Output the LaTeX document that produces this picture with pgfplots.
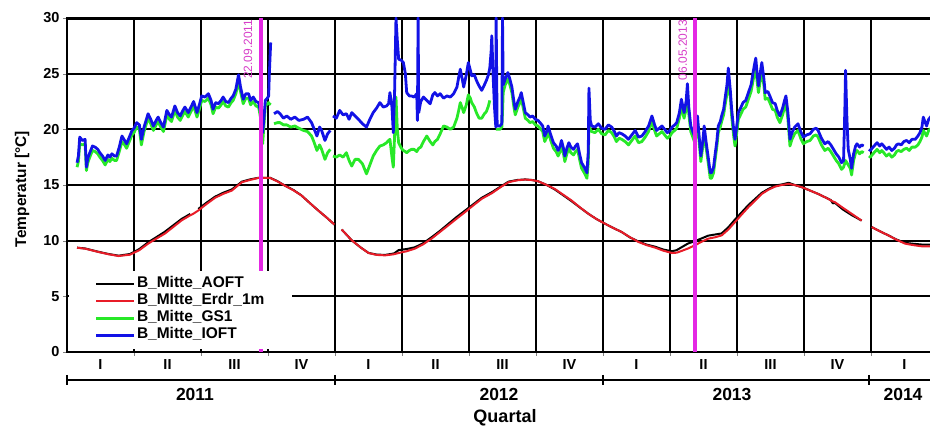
\documentclass[border=0pt]{standalone}
\usepackage{pgfplots}
\usepackage{pgfplotstable}
\pgfplotsset{compat=1.18}
\usepackage{fontspec}
\setmainfont{Liberation Sans}

\definecolor{cIOFT}{RGB}{18,18,230}
\definecolor{cGS}{RGB}{40,232,40}
\definecolor{cERD}{RGB}{232,28,40}
\definecolor{cMark}{RGB}{228,40,228}
\definecolor{cMarkTxt}{RGB}{215,60,200}

% x in quarters since 01.01.2011
\pgfplotstableread{
x aoft erdr
0.15 9.37 9.37
0.27 9.30 9.28
0.47 9.00 8.98
0.62 8.80 8.78
0.77 8.65 8.62
0.94 8.80 8.74
1.08 9.25 9.15
1.21 9.85 9.73
1.33 10.30 10.17
1.46 10.80 10.63
1.58 11.35 11.20
1.71 11.95 11.82
1.84 12.40 12.28
1.88 nan 12.40
1.92 nan 12.55
1.96 12.85 12.71
2.08 13.40 13.28
2.21 13.95 13.85
2.33 14.30 14.20
2.46 14.60 14.50
2.61 15.30 15.25
2.73 15.50 15.45
2.86 15.65 15.64
3.03 15.65 15.64
3.14 15.35 15.32
3.25 14.95 14.95
3.38 14.55 14.52
3.50 14.06 14.06
3.62 13.40 13.40
3.75 12.71 12.71
3.88 12.05 12.05
3.99 11.45 11.45
4.03 nan nan
4.10 11.00 11.00
4.25 10.03 10.03
4.38 9.40 9.40
4.50 8.90 8.89
4.62 8.75 8.72
4.75 8.72 8.68
4.88 8.85 8.78
4.95 9.15 8.89
5.07 9.25 9.05
5.19 9.40 9.28
5.31 9.75 9.65
5.44 10.30 10.18
5.56 10.85 10.75
5.69 11.50 11.37
5.81 12.10 11.95
5.94 12.70 12.56
6.06 13.25 13.15
6.19 13.85 13.76
6.34 14.35 14.26
6.47 14.85 14.80
6.59 15.30 15.25
6.72 15.45 15.42
6.84 15.50 15.49
6.94 15.45 15.44
7.03 15.34 15.34
7.16 15.00 15.00
7.28 14.60 14.65
7.40 14.10 14.15
7.53 13.55 13.61
7.65 13.00 13.02
7.78 12.42 12.42
7.90 11.95 11.95
8.03 11.52 11.52
8.15 11.15 11.15
8.28 10.77 10.77
8.40 10.30 10.32
8.53 9.92 9.88
8.65 9.65 9.60
8.78 9.45 9.37
8.90 9.20 9.10
9.03 9.05 8.89
9.10 9.15 8.92
9.17 9.40 9.07
9.27 9.75 9.30
9.37 9.95 9.58
9.47 10.20 9.90
9.57 10.45 10.18
9.67 10.55 10.30
9.77 10.65 10.47
9.87 11.20 11.00
9.97 11.90 11.67
10.07 12.55 12.35
10.17 13.20 13.01
10.27 13.75 13.60
10.37 14.30 14.20
10.47 14.65 14.58
10.57 14.95 14.86
10.67 15.05 15.00
10.77 15.20 15.10
10.87 14.98 14.98
10.97 14.80 14.80
11.09 14.50 14.50
11.21 14.20 14.20
11.33 13.85 13.85
11.40 13.65 13.62
11.43 13.35 13.52
11.46 13.40 13.46
11.58 12.80 12.95
11.71 12.30 12.42
11.86 11.80 11.80
11.90 nan nan
12.01 11.22 11.22
12.13 10.85 10.85
12.26 10.47 10.47
12.38 10.10 10.08
12.51 9.80 9.73
12.63 9.72 9.60
12.76 9.65 9.49
12.90 9.65 9.49
}\tabSoil

\pgfplotstableread{
x ioft gs
0.15 17.0 16.6
0.17 17.6 17.1
0.19 19.3 18.7
0.23 19.0 18.6
0.27 19.1 18.7
0.29 16.6 16.3
0.31 17.4 17.0
0.34 17.9 17.5
0.38 18.5 18.1
0.42 18.4 18.0
0.46 18.2 17.8
0.49 17.9 17.5
0.53 17.6 17.2
0.57 17.2 16.8
0.61 17.7 17.3
0.64 17.5 17.1
0.67 17.8 17.4
0.71 17.6 17.2
0.74 17.6 17.2
0.78 18.4 18.0
0.82 19.4 18.9
0.86 19.0 18.6
0.89 18.7 18.3
0.93 19.3 18.9
0.97 19.9 19.5
1.00 20.1 19.7
1.04 20.6 20.2
1.08 20.4 20.0
1.11 19.1 18.6
1.15 20.2 19.8
1.21 21.4 21.0
1.25 20.9 20.5
1.29 20.3 19.9
1.33 20.8 20.4
1.36 21.1 20.7
1.40 20.6 20.2
1.44 20.2 19.8
1.49 21.7 21.3
1.53 21.3 20.9
1.56 21.1 20.7
1.61 22.1 21.7
1.65 21.5 21.1
1.69 21.2 20.8
1.73 21.7 21.3
1.76 22.0 21.6
1.81 21.5 21.1
1.85 22.0 21.6
1.89 22.5 22.1
1.94 21.5 21.1
1.98 22.3 21.9
2.01 23.0 22.6
2.06 22.9 22.5
2.11 23.2 22.8
2.15 22.6 22.2
2.18 21.8 21.4
2.22 22.4 22.0
2.26 22.3 21.9
2.30 22.6 22.2
2.33 22.9 22.5
2.37 22.5 22.1
2.41 22.4 22.0
2.45 22.8 22.4
2.48 23.0 22.6
2.52 23.6 23.2
2.56 24.9 24.3
2.59 23.8 23.4
2.63 22.7 22.3
2.67 23.2 22.8
2.71 23.2 22.8
2.74 22.6 22.2
2.78 22.9 22.5
2.82 22.5 22.1
2.86 22.4 22.0
2.89 21.5 21.0
2.92 19.7 18.7
2.94 21.0 20.4
2.96 22.6 22.1
2.99 22.8 22.3
3.01 23.0 22.4
3.02 25.0 22.3
3.04 27.8 22.2
3.06 nan nan
3.09 21.4 20.5
3.14 21.6 20.6
3.18 21.4 20.6
3.23 21.0 20.4
3.28 21.2 20.4
3.34 20.9 20.2
3.40 21.1 20.3
3.46 20.8 20.1
3.53 20.9 19.9
3.59 21.1 19.8
3.65 20.6 19.4
3.69 20.0 18.8
3.73 19.4 18.1
3.77 20.2 18.6
3.80 19.9 18.2
3.85 19.0 17.3
3.89 19.6 17.9
3.93 19.9 18.2
3.95 nan nan
3.97 21.2 17.6
4.02 21.0 17.5
4.07 21.7 17.7
4.12 21.3 17.5
4.17 21.4 17.9
4.21 20.9 17.2
4.25 21.5 16.7
4.30 21.2 17.3
4.35 20.9 17.3
4.41 20.5 16.9
4.47 20.2 16.0
4.52 20.9 16.8
4.57 21.5 17.6
4.62 21.9 18.1
4.67 22.4 18.5
4.72 22.0 18.6
4.77 22.1 18.8
4.80 22.3 19.0
4.82 23.3 19.1
4.85 22.0 17.5
4.87 19.7 16.6
4.89 23.5 19.5
4.91 30.0 22.9
4.93 28.0 20.0
4.95 26.3 18.8
4.99 26.2 18.3
5.02 26.0 18.1
5.05 25.0 18.0
5.07 23.3 17.9
5.11 23.0 18.1
5.14 23.0 18.2
5.18 22.9 18.2
5.22 23.2 18.0
5.23 20.8 18.1
5.24 30.0 18.2
5.25 21.5 18.3
5.28 22.5 18.4
5.32 22.9 18.9
5.37 22.6 19.4
5.42 22.3 18.9
5.46 23.1 18.6
5.49 23.3 18.9
5.53 23.0 19.1
5.57 23.2 19.6
5.62 22.8 20.3
5.67 23.0 20.2
5.72 22.9 20.0
5.77 23.2 20.2
5.82 23.8 21.0
5.85 24.8 21.8
5.87 25.4 22.4
5.90 24.5 21.9
5.92 23.8 21.5
5.96 24.9 22.2
5.99 26.0 23.1
6.02 25.3 22.8
6.04 24.8 22.4
6.08 24.9 22.0
6.11 24.4 21.5
6.15 23.9 21.0
6.19 23.5 21.0
6.23 24.0 21.4
6.26 24.4 21.6
6.29 24.9 22.1
6.31 25.5 22.6
6.33 27.0 nan
6.34 28.4 nan
6.36 24.8 nan
6.38 22.0 nan
6.40 20.2 20.0
6.405 30.0 20.0
6.42 20.3 20.0
6.46 20.3 20.0
6.49 20.5 20.2
6.50 30.0 21.5
6.51 24.0 23.3
6.54 24.5 24.0
6.58 25.1 24.5
6.61 24.5 24.0
6.64 23.8 23.3
6.67 22.5 22.0
6.69 21.8 21.3
6.73 22.5 22.0
6.76 22.9 22.4
6.78 23.3 22.8
6.81 22.4 21.9
6.84 21.5 21.0
6.88 21.3 20.8
6.91 21.1 20.6
6.95 21.2 20.7
6.99 20.9 20.4
7.03 20.8 20.3
7.06 20.6 20.1
7.10 20.3 19.8
7.13 19.4 18.9
7.16 19.8 19.3
7.18 20.3 19.8
7.22 19.5 19.0
7.26 18.8 18.3
7.30 18.5 18.0
7.33 18.1 17.6
7.36 18.5 18.0
7.38 19.0 18.5
7.41 18.3 17.8
7.43 17.6 17.1
7.46 18.3 17.8
7.49 18.8 18.3
7.52 18.4 17.9
7.56 18.2 17.7
7.59 18.5 18.0
7.62 18.7 18.2
7.65 17.8 17.3
7.68 17.0 16.5
7.72 16.6 16.1
7.76 16.1 15.6
7.78 18.0 17.0
7.79 23.7 20.5
7.81 20.8 20.0
7.83 20.3 19.8
7.88 20.2 19.7
7.93 20.5 20.0
7.98 20.1 19.6
8.03 20.0 19.5
8.08 20.4 19.9
8.13 20.2 19.7
8.17 19.8 19.3
8.20 19.4 18.9
8.24 19.7 19.2
8.28 19.6 19.1
8.33 19.4 18.9
8.38 19.1 18.6
8.43 19.5 19.0
8.48 19.9 19.4
8.53 19.3 18.8
8.58 19.4 18.9
8.63 19.8 19.3
8.68 20.3 19.8
8.73 21.2 20.7
8.77 20.4 19.9
8.80 19.9 19.4
8.84 20.1 19.6
8.88 20.3 19.8
8.92 20.0 19.5
8.96 19.7 19.2
9.00 19.9 19.4
9.03 20.2 19.7
9.07 20.4 19.9
9.10 20.6 20.1
9.14 21.5 21.0
9.17 22.7 22.0
9.21 21.5 21.0
9.24 22.5 21.8
9.26 24.1 23.0
9.28 22.0 21.4
9.31 20.3 19.8
9.34 19.8 19.3
9.37 19.3 18.8
9.39 20.0 19.5
9.41 21.2 20.6
9.44 19.0 18.5
9.46 17.6 17.1
9.49 19.0 18.5
9.51 20.3 19.7
9.54 18.8 18.3
9.57 17.5 17.0
9.60 16.1 15.6
9.62 16.1 15.6
9.65 16.6 16.1
9.67 17.6 17.1
9.70 19.0 18.5
9.72 20.3 19.7
9.75 20.7 20.2
9.77 21.2 20.7
9.80 21.8 21.3
9.82 22.7 22.1
9.85 24.0 23.2
9.87 25.5 24.3
9.90 23.5 22.9
9.92 21.8 21.2
9.95 20.0 19.4
9.97 19.1 18.5
10.00 20.5 19.9
10.02 21.5 20.9
10.06 22.0 21.4
10.09 22.4 21.8
10.13 22.6 22.0
10.17 23.3 22.7
10.21 24.0 23.4
10.24 25.1 24.4
10.26 25.8 25.0
10.28 26.4 25.4
10.30 25.0 24.3
10.32 23.9 23.3
10.35 25.2 24.5
10.37 26.0 25.2
10.40 24.6 24.0
10.42 23.3 22.7
10.46 23.4 22.8
10.49 23.0 22.4
10.53 22.4 21.8
10.57 22.3 21.7
10.60 21.7 21.1
10.64 21.2 20.6
10.68 21.9 21.3
10.71 22.6 22.0
10.73 23.0 22.3
10.76 21.5 20.9
10.79 19.1 18.5
10.82 19.7 19.1
10.86 20.2 19.6
10.91 20.5 19.9
10.95 19.8 19.2
10.99 19.3 18.7
11.04 19.5 18.9
11.09 19.6 19.0
11.14 20.0 19.4
11.18 20.1 19.5
11.21 19.9 19.3
11.26 19.2 18.6
11.31 18.7 18.1
11.36 18.9 18.3
11.40 18.6 18.0
11.44 18.2 17.6
11.48 17.8 17.2
11.52 17.5 16.9
11.56 17.0 16.4
11.59 17.2 16.6
11.61 22.0 17.0
11.62 25.3 17.2
11.64 21.0 17.0
11.66 18.2 16.8
11.69 17.3 16.5
11.71 16.5 15.9
11.74 17.8 17.2
11.77 18.5 17.9
11.79 18.7 18.1
11.83 18.4 17.8
11.86 18.6 18.0
11.89 18.5 17.9
11.93 nan nan
11.97 18.2 17.6
11.99 18.1 17.5
12.03 18.4 17.8
12.06 18.6 18.0
12.09 18.8 18.2
12.13 18.5 17.9
12.16 18.7 18.1
12.19 18.5 17.9
12.23 18.2 17.6
12.27 18.4 17.8
12.31 18.1 17.5
12.35 18.3 17.7
12.38 18.6 18.0
12.41 18.7 18.1
12.45 18.6 18.0
12.49 18.9 18.2
12.53 19.0 18.3
12.57 18.8 18.1
12.61 19.1 18.4
12.66 19.1 18.4
12.70 19.4 18.6
12.73 19.7 18.9
12.76 20.2 19.3
12.78 21.1 19.9
12.81 20.6 19.6
12.83 20.3 19.4
12.86 20.9 19.9
12.90 21.2 20.1
}\tabAir

\begin{document}
\begin{tikzpicture}
\useasboundingbox (-67pt,-75pt) rectangle (863pt,352pt);
% the frame runs on past the right page edge, so only the left,
% top and bottom lines are seen
\begin{axis}[
  at={(0,0)}, anchor=south west,
  scale only axis, width=866pt, height=334pt,
  xmin=0, xmax=12.925, ymin=0, ymax=30,
  axis line style={line width=2.4pt, black},
  xtick={1,2,...,12}, xticklabels={},
  xtick pos=left, ytick pos=left,
  ytick={0,5,...,30},
  tick align=outside,
  major tick length=4pt,
  ymajorgrids, xmajorgrids,
  y grid style={line width=2pt, black},
  x grid style={line width=1.6pt, black},
  /pgf/number format/assume math mode=true,
  yticklabel style={font=\fontsize{14.5}{16}\selectfont\bfseries},
  unbounded coords=jump,
  legend cell align=left,
  legend image code/.code={\draw[#1] (0pt,0pt) -- (38pt,0pt);},
  legend style={at={(0,0)}, anchor=south west, xshift=1.5pt, yshift=3pt,
    fill=white, draw=none, font=\fontsize{15.5}{17}\selectfont\bfseries,
    inner xsep=26pt, inner ysep=5pt, row sep=0pt,
    nodes={inner sep=1.5pt, text height=10.5pt, text depth=3.5pt}},
]
% horizontal rules and top frame, laid under the curves
\pgfplotsinvokeforeach{5,10,15,20,25}{
  \draw[line width=2pt, black] (axis cs:0,#1) -- (axis cs:12.925,#1);}
\draw[line width=5pt, black] (axis cs:0,30) -- (axis cs:12.925,30);
\addplot[black, line width=2pt, line join=round] table[x=x, y=aoft] {\tabSoil};
\addlegendentry{B\_Mitte\_AOFT}
\addplot[cERD, line width=2pt, line join=round] table[x=x, y=erdr] {\tabSoil};
\addlegendentry{B\_MItte\_Erdr\_1m}
\addplot[cGS, line width=2.8pt, line join=round] table[x=x, y=gs] {\tabAir};
\addlegendentry{B\_Mitte\_GS1}
\addplot[cIOFT, line width=2.8pt, line join=round] table[x=x, y=ioft] {\tabAir};
\addlegendentry{B\_Mitte\_IOFT}
% event markers
\addplot[cMark, line width=4pt, forget plot] coordinates {(2.90,0) (2.90,30)};
\addplot[cMark, line width=4pt, forget plot] coordinates {(9.37,0) (9.37,30)};
\node[rotate=90, text=cMarkTxt, font=\fontsize{12}{14}\selectfont] at (axis cs:2.70,27.2) {22.09.2011};
\node[rotate=90, text=cMarkTxt, font=\fontsize{12}{14}\selectfont] at (axis cs:9.19,27.1) {06.05.2013};
\end{axis}

% quarter and year axis below the plot
\begin{scope}[font=\fontsize{14.5}{16}\selectfont\bfseries]
\foreach \lab [count=\i from 0] in {I,II,III,IV,I,II,III,IV,I,II,III,IV,I}
  \node at ({(67*\i+33.5)*1pt}, -13pt) {\lab};
\end{scope}
\draw[line width=2pt] (0pt,-28pt) -- (863pt,-28pt);
\foreach \xx in {0,268,536,802}
  \draw[line width=2pt] (\xx pt,-23pt) -- (\xx pt,-33pt);
\begin{scope}[font=\fontsize{17.5}{19}\selectfont\bfseries]
\node at (128pt,-42pt) {2011};
\node at (432pt,-42pt) {2012};
\node at (665pt,-42pt) {2013};
\node at (836pt,-42pt) {2014};
\end{scope}
\node[font=\fontsize{18}{20}\selectfont\bfseries] at (438pt,-66pt) {Quartal};
\node[rotate=90, font=\fontsize{15.5}{17}\selectfont\bfseries] at (-45pt,163pt) {Temperatur [°C]};
\end{tikzpicture}
\end{document}
